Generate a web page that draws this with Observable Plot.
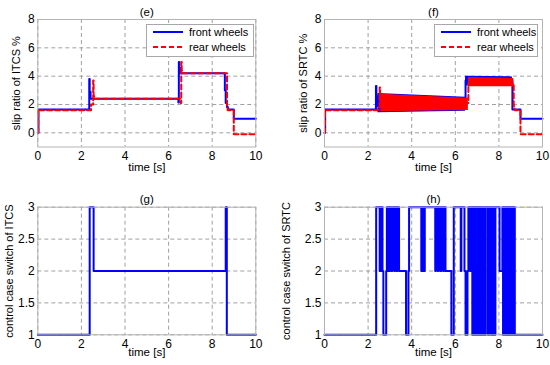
<!DOCTYPE html>
<html>
<head>
<meta charset="utf-8">
<script src="https://cdn.jsdelivr.net/npm/d3@7"></script>
<script src="https://cdn.jsdelivr.net/npm/@observablehq/plot@0.6"></script>
<style>
  body { margin: 0; background: #fff; font-family: "Liberation Sans", Arial, sans-serif; }
  #wrap { position: relative; width: 550px; height: 365px; overflow: hidden; }
  .panel { position: absolute; }
  .legend { position: absolute; background: #fff; border: 1px solid #a8a8a8; box-sizing: border-box; }
</style>
</head>
<body>
<div id="wrap"></div>
<script>
// ---------- tick labels ----------
const xTicks = [0, 2, 4, 6, 8, 10];
const slipTicks = [0, 2, 4, 6, 8];
const switchTicks = [1, 1.5, 2, 2.5, 3];

// ---------- legend ----------
const legendLabels = ["front wheels", "rear wheels"];
const legendColors = ["#0000ff", "#ff0000"];
const legendDashes = ["none", "5,3"];

// ---------- (e) ITCS slip ratio ----------
const eFrontT = [0, 0.03, 2.36, 2.38, 2.40, 2.42, 6.45, 6.47, 6.49, 6.51, 6.53, 8.58, 8.62, 8.68, 8.73, 8.99, 10];
const eFrontV = [0, 1.65, 3.8, 2.4, 2.9, 2.4, 2.15, 5.0, 4.3, 4.6, 4.2, 3.0, 2.1, 1.8, 1.65, 1.0, 1.0];
const eRearT = [0, 0.02, 2.44, 2.54, 2.56, 2.58, 6.55, 6.58, 6.60, 6.62, 8.68, 8.71, 8.99, 10];
const eRearV = [0, 1.6, 2.0, 3.7, 2.6, 2.4, 2.1, 5.0, 4.4, 4.2, 1.9, 1.6, -0.1, -0.1];

// ---------- (f) SRTC slip ratio ----------
const fFrontT = [0, 0.03, 2.36, 2.38, 2.40, 2.42, 2.45, 6.45, 6.47, 8.62, 8.99, 10];
const fFrontV = [0, 1.65, 3.3, 2.0, 2.6, 1.9, 2.1, 2.3, 3.7, 1.65, 1.0, 1.0];
const fRearT = [0, 0.02, 2.45, 2.53, 2.55, 2.58, 6.60, 8.68, 8.72, 8.99, 10];
const fRearV = [0, 1.6, 1.8, 3.2, 2.3, 2.1, 3.5, 1.9, 1.6, -0.1, -0.1];
// chattering envelopes (low / high) of each series
const fFrontBandT = [2.45, 6.47, 6.47, 8.62];
const fFrontBandLo = [1.42, 1.52, 3.3, 3.3];
const fFrontBandHi = [2.78, 2.52, 4.0, 3.95];
const fFrontBandSeg = [1, 1, 2, 2];
const fRearBandT = [2.58, 6.60, 6.60, 8.68];
const fRearBandLo = [1.48, 1.58, 3.25, 3.25];
const fRearBandHi = [2.72, 2.45, 3.9, 3.85];
const fRearBandSeg = [1, 1, 2, 2];

// ---------- (g) ITCS control case ----------
const gT = [0, 2.38, 2.56, 8.62, 8.64, 8.65, 8.67, 10];
const gV = [1, 3, 2, 3, 2, 3, 1, 1];

// ---------- (h) SRTC control case ----------
const hT = [0, 2.37, 2.53, 2.56, 2.59, 2.62, 2.66, 2.70, 2.83, 2.86, 2.90, 2.93, 2.97, 3.00, 3.08, 3.11,
  3.20, 3.23, 3.31, 3.34, 3.42, 3.74, 3.85, 3.88, 4.44, 4.47, 4.50, 4.53, 4.57, 4.60, 5.08, 5.11,
  5.20, 5.23, 5.32, 5.35, 5.44, 5.47, 5.55, 5.82, 5.93, 6.25, 6.28, 6.42, 6.47, 6.56, 6.60, 6.68,
  6.72, 6.78, 6.82, 6.87, 6.90, 6.95, 6.98, 7.04, 7.07, 7.12, 7.16, 7.20, 7.23, 7.28, 7.32, 7.36,
  7.40, 7.50, 7.54, 7.62, 7.66, 7.70, 7.74, 7.80, 7.84, 8.03, 8.16, 8.19, 8.22, 8.25, 8.28, 8.31,
  8.34, 8.37, 8.40, 8.43, 8.46, 8.49, 8.52, 8.55, 8.58, 8.61, 8.64, 8.67, 8.70, 8.73, 8.76, 10];
const hV = [1, 3, 2, 3, 2, 3, 2, 1, 2, 3, 2, 3, 2, 3, 2, 3,
  2, 3, 2, 3, 2, 1, 2, 3, 2, 3, 2, 3, 2, 3, 2, 3,
  2, 3, 2, 3, 2, 3, 2, 1, 3, 2, 3, 2, 1, 2, 3, 2,
  3, 1, 3, 1, 3, 1, 3, 1, 3, 1, 3, 1, 3, 1, 3, 1,
  3, 1, 3, 1, 3, 1, 3, 1, 3, 2, 3, 1, 3, 1, 3, 1,
  3, 1, 3, 1, 3, 1, 3, 1, 3, 1, 3, 1, 3, 1, 1, 1];

// ---------- helpers ----------
const BLUE = "#0000ff", RED = "#ff0000";
const FONT = '"Liberation Sans", Arial, sans-serif';
const series = (T, V) => T.map((t, i) => ({t, v: V[i]}));
const band = (T, L, H, S) => T.map((t, i) => ({t, lo: L[i], hi: H[i], seg: S[i]}));
const wrap = document.getElementById("wrap");

function panel(cfg) {
  const gridStyle = {stroke: "#a0a0a0", strokeOpacity: 1, strokeDasharray: "4,3", strokeWidth: 1};
  const chart = Plot.plot({
    width: cfg.width, height: cfg.height,
    marginTop: cfg.mt, marginBottom: cfg.mb, marginLeft: cfg.ml, marginRight: cfg.mr,
    style: {fontFamily: FONT, fontSize: "12px", background: "white", color: "black", overflow: "visible"},
    x: {domain: [0, 10]},
    y: {domain: cfg.yDomain},
    marks: [
      Plot.gridX(xTicks, gridStyle),
      Plot.gridY(cfg.yTicks, gridStyle),
      ...cfg.marks,
      Plot.frame({stroke: "#b4b4b4", strokeWidth: 1}),
      Plot.axisX(xTicks, {tickSize: 0, tickPadding: cfg.xPad, label: null, tickFormat: d => String(d)}),
      Plot.axisY(cfg.yTicks, {tickSize: 0, tickPadding: 3, label: null, tickFormat: d => String(d)}),
      Plot.text([cfg.title], {frameAnchor: "top", dy: cfg.titleDy, text: d => d, fontSize: 11.5}),
      Plot.text(["time [s]"], {frameAnchor: "bottom", dy: cfg.xlabDy, text: d => d, fontSize: 11.5}),
      Plot.text([cfg.ylabel], {frameAnchor: "left", textAnchor: "middle", rotate: -90, dx: cfg.ylabDx, text: d => d, fontSize: 11})
    ]
  });
  const div = document.createElement("div");
  div.className = "panel";
  div.style.left = cfg.left + "px";
  div.style.top = cfg.top + "px";
  div.appendChild(chart);
  wrap.appendChild(div);
}

function legend(left, top, width, height) {
  const div = document.createElement("div");
  div.className = "legend";
  div.style.left = left + "px"; div.style.top = top + "px";
  div.style.width = width + "px"; div.style.height = height + "px";
  const svg = d3.create("svg").attr("width", width).attr("height", height)
    .style("position", "absolute").style("left", "-1px").style("top", "-1px");
  legendLabels.forEach((lab, i) => {
    const y = 8 + i * 15;
    svg.append("line").attr("x1", 7).attr("x2", 37).attr("y1", y).attr("y2", y)
      .attr("stroke", legendColors[i]).attr("stroke-width", 2)
      .attr("stroke-dasharray", legendDashes[i]);
    svg.append("text").attr("x", 43).attr("y", y).attr("dy", "0.35em")
      .attr("font-size", 11).attr("font-family", FONT)
      .text(lab);
  });
  div.appendChild(svg.node());
  wrap.appendChild(div);
}

const lineOpts = (color, dash) => ({x: "t", y: "v", curve: "step-after", stroke: color, strokeWidth: 2, strokeDasharray: dash});

// (e)
panel({
  left: 0, top: 0, width: 275, height: 180, mt: 19, mb: 33.5, ml: 37.3, mr: 19.7,
  yDomain: [-1, 8], yTicks: slipTicks, xPad: 4, title: "(e)", titleDy: -12, xlabDy: 23.5,
  ylabel: "slip ratio of ITCS %", ylabDx: -21,
  marks: [
    Plot.line(series(eFrontT, eFrontV), lineOpts(BLUE, "none")),
    Plot.line(series(eRearT, eRearV), lineOpts(RED, "5,3"))
  ]
});
// (f)
panel({
  left: 275, top: 0, width: 275, height: 180, mt: 19, mb: 33.5, ml: 49, mr: 8,
  yDomain: [-1, 8], yTicks: slipTicks, xPad: 4, title: "(f)", titleDy: -12, xlabDy: 23.5,
  ylabel: "slip ratio of SRTC %", ylabDx: -21,
  marks: [
    Plot.areaY(band(fFrontBandT, fFrontBandLo, fFrontBandHi, fFrontBandSeg), {x: "t", y1: "lo", y2: "hi", z: "seg", fill: BLUE}),
    Plot.line(series(fFrontT, fFrontV), lineOpts(BLUE, "none")),
    Plot.areaY(band(fRearBandT, fRearBandLo, fRearBandHi, fRearBandSeg), {x: "t", y1: "lo", y2: "hi", z: "seg", fill: RED}),
    Plot.line(series(fRearT, fRearV), lineOpts(RED, "5,3"))
  ]
});
// (g)
panel({
  left: 0, top: 180, width: 275, height: 185, mt: 26.7, mb: 30.7, ml: 37.3, mr: 19.7,
  yDomain: [1, 3], yTicks: switchTicks, xPad: 5, title: "(g)", titleDy: -12, xlabDy: 21.3,
  ylabel: "control case switch of ITCS", ylabDx: -28,
  marks: [Plot.line(series(gT, gV), lineOpts(BLUE, "none"))]
});
// (h)
panel({
  left: 275, top: 180, width: 275, height: 185, mt: 26.7, mb: 30.7, ml: 49, mr: 8,
  yDomain: [1, 3], yTicks: switchTicks, xPad: 5, title: "(h)", titleDy: -12, xlabDy: 21.3,
  ylabel: "control case switch of SRTC", ylabDx: -38.5,
  marks: [Plot.line(series(hT, hV), lineOpts(BLUE, "none"))]
});

legend(146, 24, 108, 33);
legend(434, 24, 104, 33);
</script>
</body>
</html>
